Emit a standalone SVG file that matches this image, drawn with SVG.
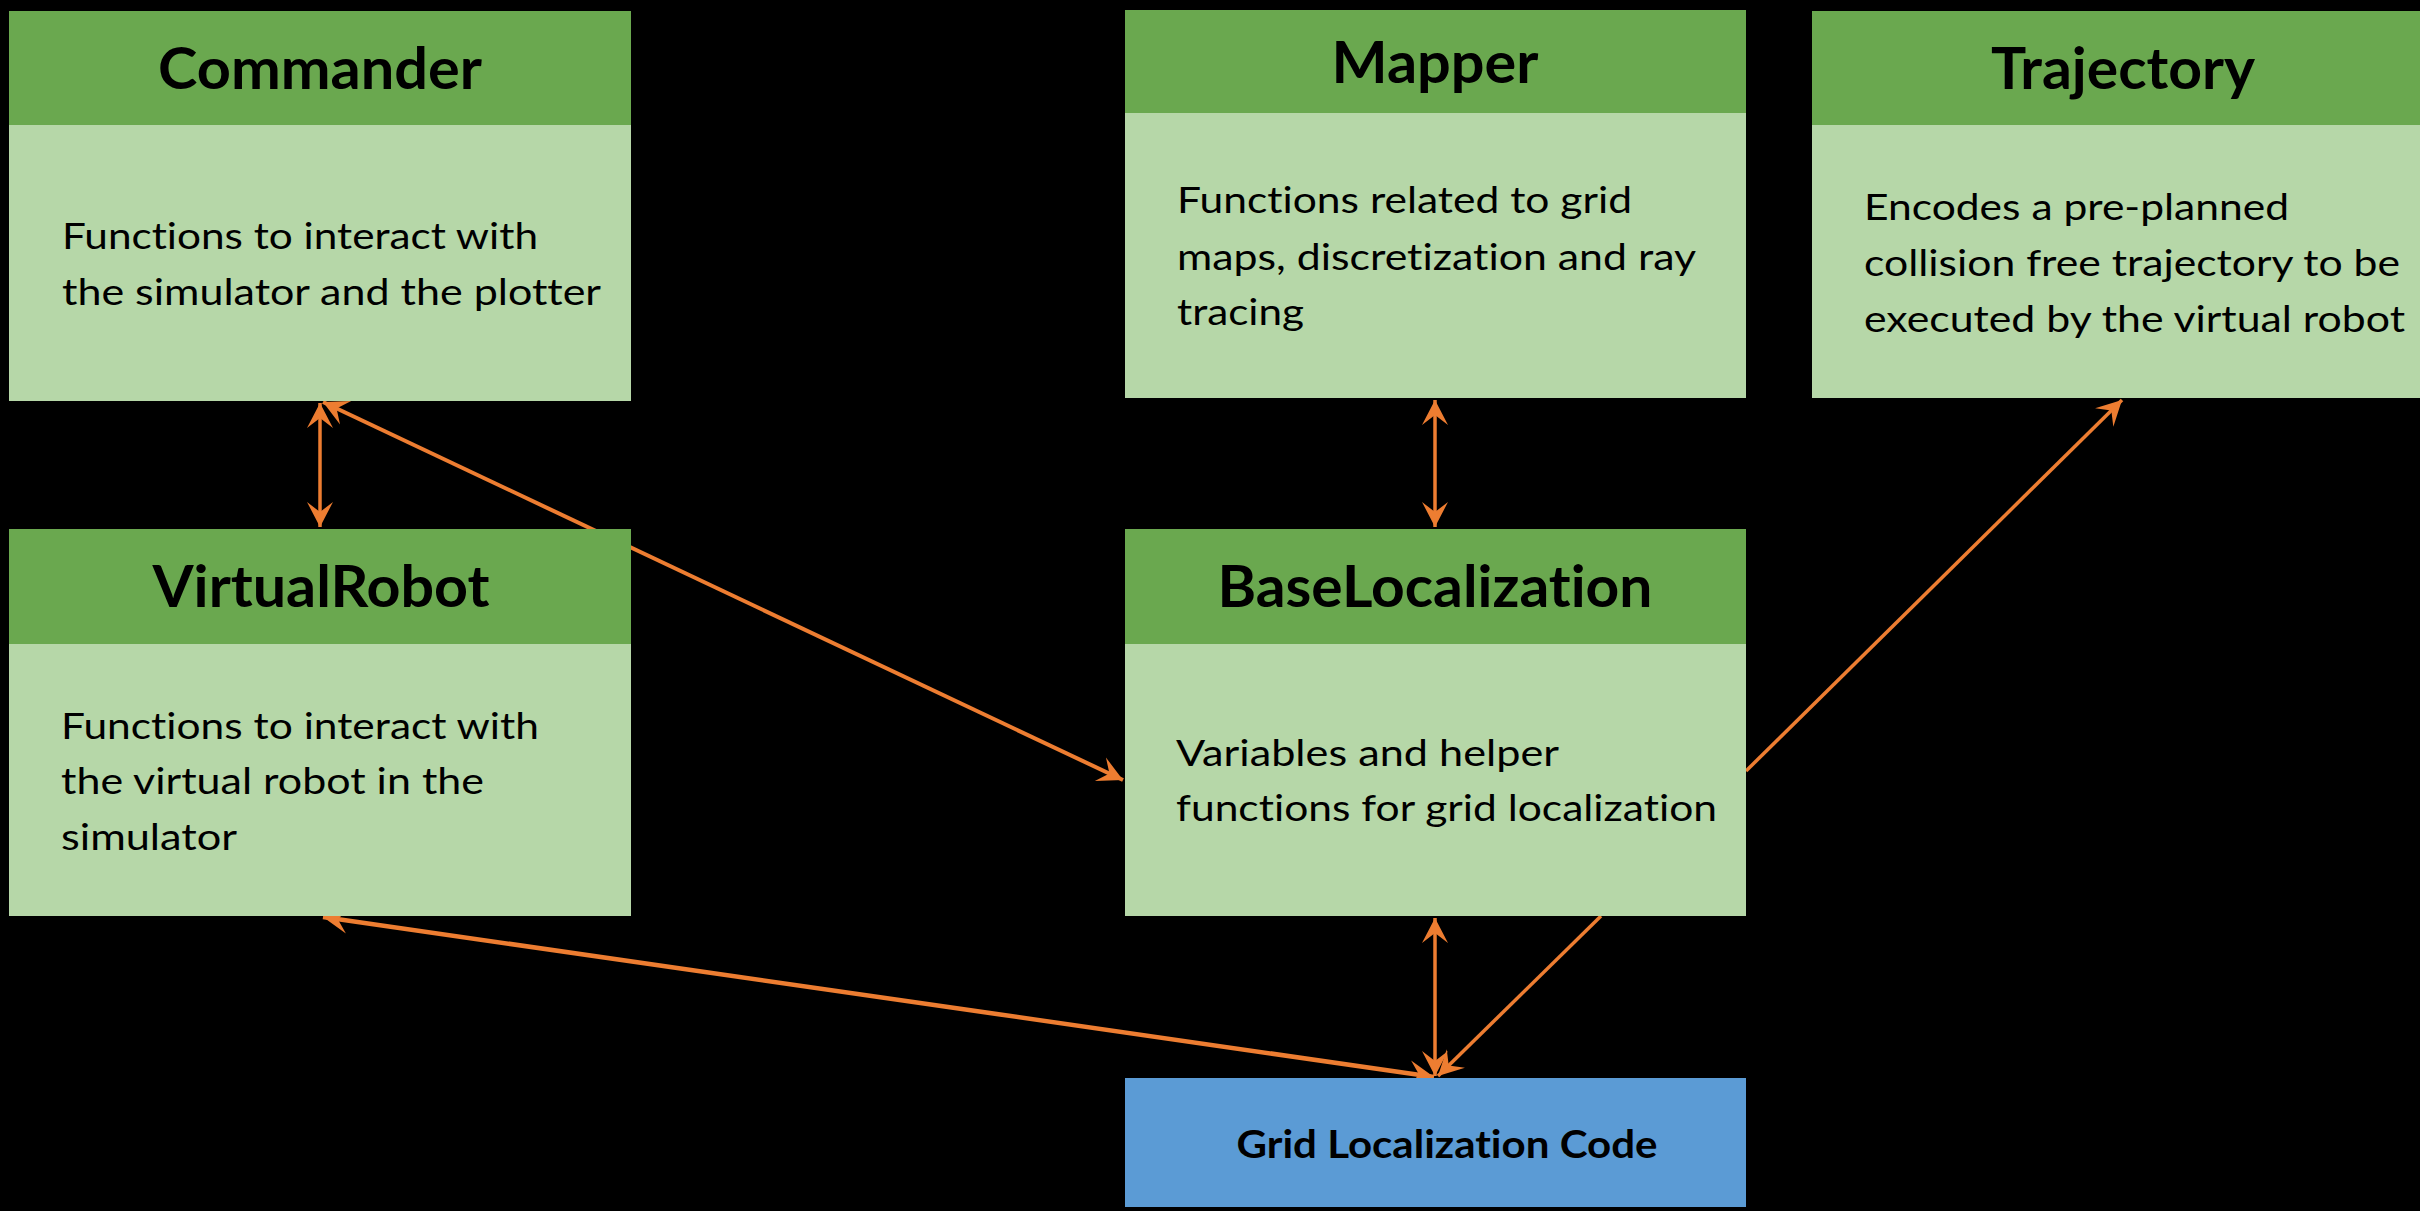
<svg xmlns="http://www.w3.org/2000/svg" width="2420" height="1211" viewBox="0 0 2420 1211">
<defs>
<style>
.hdr{fill:#6AA84F}
.bdy{fill:#B6D7A8}
.blue{fill:#5B9BD5}
text{font-variant-ligatures:none}
.title{font-family:Lato,"Liberation Sans",sans-serif;font-weight:bold;font-size:58px;fill:#000;text-anchor:middle}
.body{font-family:Lato,"Liberation Sans",sans-serif;font-size:37px;fill:#000}
.code{font-family:Lato,"Liberation Sans",sans-serif;font-weight:bold;font-size:39px;fill:#000;text-anchor:middle}
.conn{stroke:#ED7D31;stroke-width:3.5;fill:none}
</style>
<marker id="ah" markerUnits="userSpaceOnUse" markerWidth="30" markerHeight="30" viewBox="-27 -15 30 30" refX="0" refY="0" orient="auto-start-reverse">
<path d="M0,0 L-25,-13 L-15,0 L-25,13 Z" fill="#ED7D31"/>
</marker>
</defs>
<rect x="0" y="0" width="2420" height="1211" fill="#000"/>
<g id="connectors">
<line class="conn" x1="320" y1="403" x2="320" y2="527" marker-start="url(#ah)" marker-end="url(#ah)"/>
<line class="conn" style="stroke-width:4" x1="323" y1="402" x2="1123" y2="780" marker-start="url(#ah)" marker-end="url(#ah)"/>
<line class="conn" x1="1435" y1="400" x2="1435" y2="527" marker-start="url(#ah)" marker-end="url(#ah)"/>
<line class="conn" x1="1746" y1="771" x2="2122" y2="400" marker-end="url(#ah)"/>
<line class="conn" style="stroke-width:4.5" x1="323" y1="917" x2="1434" y2="1077" marker-start="url(#ah)" marker-end="url(#ah)"/>
<line class="conn" x1="1435" y1="918" x2="1435" y2="1076" marker-start="url(#ah)" marker-end="url(#ah)"/>
<line class="conn" x1="1601" y1="916" x2="1438" y2="1076" marker-end="url(#ah)"/>
</g>
<g id="commander">
<rect class="bdy" x="9" y="11" width="622" height="390"/>
<rect class="hdr" x="9" y="11" width="622" height="114"/>
<text class="title" x="320" y="89" textLength="324" lengthAdjust="spacingAndGlyphs">Commander</text>
<text class="body" x="62" y="249" textLength="476" lengthAdjust="spacingAndGlyphs">Functions to interact with</text>
<text class="body" x="62" y="305" textLength="539" lengthAdjust="spacingAndGlyphs">the simulator and the plotter</text>
</g>
<g id="mapper">
<rect class="bdy" x="1125" y="10" width="621" height="388"/>
<rect class="hdr" x="1125" y="10" width="621" height="103"/>
<text class="title" x="1435" y="83" textLength="207" lengthAdjust="spacingAndGlyphs">Mapper</text>
<text class="body" x="1177" y="213" textLength="455" lengthAdjust="spacingAndGlyphs">Functions related to grid</text>
<text class="body" x="1177" y="270" textLength="519" lengthAdjust="spacingAndGlyphs">maps, discretization and ray</text>
<text class="body" x="1177" y="325" textLength="127" lengthAdjust="spacingAndGlyphs">tracing</text>
</g>
<g id="trajectory">
<rect class="bdy" x="1812" y="11" width="621" height="387"/>
<rect class="hdr" x="1812" y="11" width="621" height="114"/>
<text class="title" x="2123" y="89" textLength="264" lengthAdjust="spacingAndGlyphs">Trajectory</text>
<text class="body" x="1864" y="220" textLength="425" lengthAdjust="spacingAndGlyphs">Encodes a pre-planned</text>
<text class="body" x="1864" y="276" textLength="536" lengthAdjust="spacingAndGlyphs">collision free trajectory to be</text>
<text class="body" x="1864" y="332" textLength="541" lengthAdjust="spacingAndGlyphs">executed by the virtual robot</text>
</g>
<g id="virtualrobot">
<rect class="bdy" x="9" y="529" width="622" height="387"/>
<rect class="hdr" x="9" y="529" width="622" height="115"/>
<text class="title" x="321" y="607" textLength="337" lengthAdjust="spacingAndGlyphs">VirtualRobot</text>
<text class="body" x="61" y="739" textLength="478" lengthAdjust="spacingAndGlyphs">Functions to interact with</text>
<text class="body" x="61" y="794" textLength="423" lengthAdjust="spacingAndGlyphs">the virtual robot in the</text>
<text class="body" x="61" y="850" textLength="176" lengthAdjust="spacingAndGlyphs">simulator</text>
</g>
<g id="baselocalization">
<rect class="bdy" x="1125" y="529" width="621" height="387"/>
<rect class="hdr" x="1125" y="529" width="621" height="115"/>
<text class="title" x="1435" y="607" textLength="435" lengthAdjust="spacingAndGlyphs">BaseLocalization</text>
<text class="body" x="1176" y="766" textLength="383" lengthAdjust="spacingAndGlyphs">Variables and helper</text>
<text class="body" x="1176" y="821" textLength="541" lengthAdjust="spacingAndGlyphs">functions for grid localization</text>
</g>
<g id="gridcode">
<rect class="blue" x="1125" y="1078" width="621" height="129"/>
<text class="code" x="1447" y="1158" textLength="421" lengthAdjust="spacingAndGlyphs">Grid Localization Code</text>
</g>
</svg>
